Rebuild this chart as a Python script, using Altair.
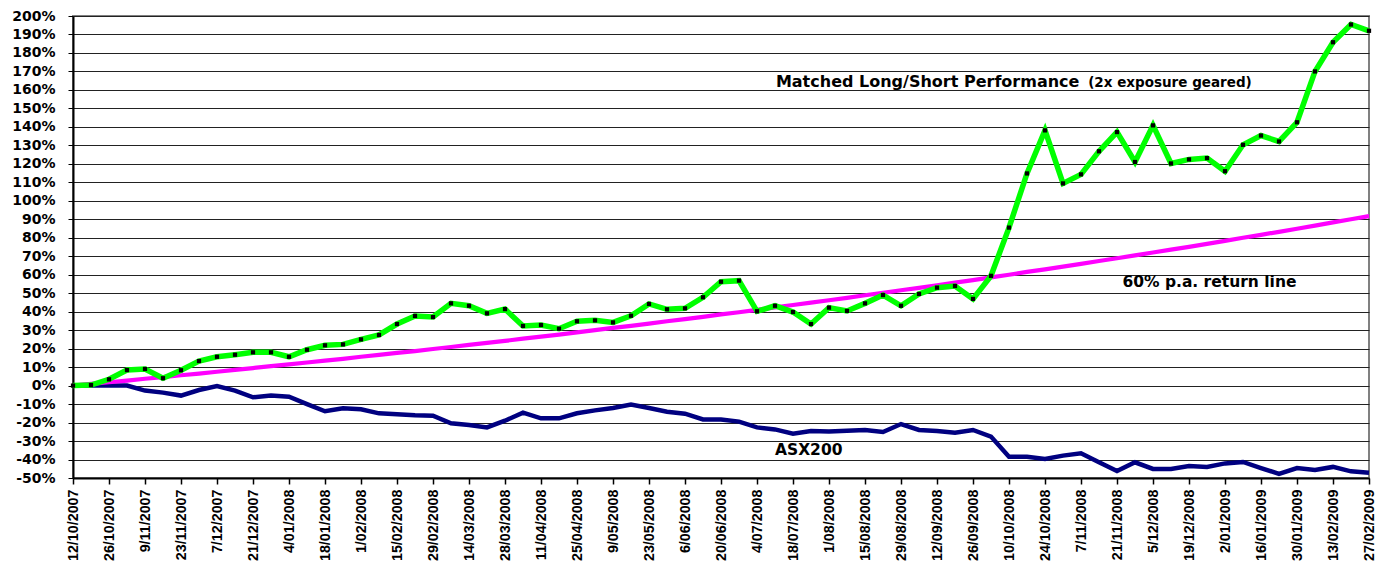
import altair as alt
import pandas as pd

# Fortnightly x tick labels (weekly data points, week 0 = 12/10/2007)
date_labels = [
    "12/10/2007", "26/10/2007", "9/11/2007", "23/11/2007", "7/12/2007", "21/12/2007",
    "4/01/2008", "18/01/2008", "1/02/2008", "15/02/2008", "29/02/2008", "14/03/2008",
    "28/03/2008", "11/04/2008", "25/04/2008", "9/05/2008", "23/05/2008", "6/06/2008",
    "20/06/2008", "4/07/2008", "18/07/2008", "1/08/2008", "15/08/2008", "29/08/2008",
    "12/09/2008", "26/09/2008", "10/10/2008", "24/10/2008", "7/11/2008", "21/11/2008",
    "5/12/2008", "19/12/2008", "2/01/2009", "16/01/2009", "30/01/2009", "13/02/2009",
    "27/02/2009",
]

# Matched Long/Short Performance (%)
matched = [
    0.0, 0.3, 3.4, 8.4, 9.0, 4.0, 8.3, 13.3, 15.6, 16.7, 18.0, 18.0, 15.6, 19.4, 21.8,
    22.3, 25.0, 27.4, 33.3, 37.7, 37.1, 44.5, 43.2, 39.1, 41.4, 32.3, 32.8, 30.8, 34.8,
    35.3, 34.2, 37.8, 44.2, 41.3, 41.8, 47.8, 56.2, 56.8, 40.2, 43.2, 39.8, 33.3, 42.2,
    40.4, 44.5, 49.0, 43.2, 49.6, 53.0, 53.9, 46.9, 59.4, 85.5, 114.8, 138.1, 109.4,
    114.3, 126.8, 137.2, 121.0, 140.8, 120.2, 122.4, 123.1, 116.0, 130.3, 135.3, 132.1,
    142.5, 170.0, 185.8, 195.4, 192.0,
]

# 60% p.a. return line (%)
target = [
    0.0, 0.9, 1.8, 2.7, 3.7, 4.6, 5.6, 6.5, 7.5, 8.5, 9.5, 10.5, 11.5, 12.5, 13.5,
    14.5, 15.6, 16.6, 17.7, 18.7, 19.8, 20.9, 22.0, 23.1, 24.2, 25.4, 26.5, 27.6, 28.8,
    30.0, 31.2, 32.3, 33.5, 34.8, 36.0, 37.2, 38.5, 39.7, 41.0, 42.3, 43.6, 44.9, 46.2,
    47.5, 48.9, 50.2, 51.6, 52.9, 54.3, 55.7, 57.1, 58.6, 60.0, 61.5, 62.9, 64.4,
    65.9, 67.4, 68.9, 70.5, 72.0, 73.6, 75.1, 76.7, 78.3, 80.0, 81.6, 83.2, 84.9,
    86.6, 88.3, 90.0, 91.7,
]

# ASX200 (%)
asx200 = [
    0.0, 0.0, 0.0, 0.0, -2.7, -3.8, -5.4, -2.4, -0.2, -2.7, -6.3, -5.4, -6.0, -10.0,
    -13.9, -12.3, -12.8, -15.0, -15.5, -16.1, -16.3, -20.4, -21.3, -22.6, -19.0, -14.6,
    -17.7, -17.7, -15.0, -13.4, -12.1, -10.3, -12.1, -14.1, -15.2, -18.3, -18.3, -19.5,
    -22.6, -23.7, -26.0, -24.6, -24.9, -24.4, -24.0, -25.1, -20.8, -24.0, -24.6, -25.5,
    -24.0, -27.6, -38.5, -38.5, -39.7, -37.9, -36.6, -41.5, -46.2, -41.5, -45.1, -45.1,
    -43.5, -44.0, -42.1, -41.3, -44.6, -47.8, -44.6, -45.7, -44.0, -46.4, -47.1,
]

# Annotations: text, week position, value position
ann_text = ["Matched Long/Short Performance", "(2x exposure geared)",
            "60% p.a. return line", "ASX200"]
ann_x = [39.05, 56.4, 58.3, 39.0]
ann_y = [161.6, 161.6, 53.2, -37.3]
ann_size = [16, 13.5, 15.5, 15.5]

df = pd.DataFrame({
    "week": list(range(len(matched))),
    "matched": matched,
    "target": target,
    "asx": asx200,
})
ann = pd.DataFrame({"text": ann_text, "x": ann_x, "y": ann_y, "size": ann_size})

FONT = "DejaVu Sans"
XFONT = "Liberation Sans"
label_js = "[" + ",".join("'%s'" % s for s in date_labels) + "][round(datum.value/2)]"

xscale = alt.Scale(domain=[0, 72], nice=False, zero=False)
yscale = alt.Scale(domain=[-50, 200], nice=False, zero=False)

xaxis = alt.Axis(
    values=list(range(0, 73, 2)), tickCount=500, labelExpr=label_js, labelAngle=-90,
    labelFont=XFONT, labelFontSize=14.3, labelFontWeight="bold", labelColor="black",
    labelOverlap=False, labelFlush=False, labelBound=False, labelPadding=5,
    tickSize=6, tickColor="black", tickWidth=1.5, domainColor="black", domainWidth=2,
    grid=False, title=None,
)
yaxis = alt.Axis(
    values=list(range(-50, 201, 10)), tickCount=500, labelExpr="datum.value + '%'",
    labelFont=FONT, labelFontSize=14, labelFontWeight="bold", labelColor="black",
    labelPadding=13, tickSize=5, tickColor="black", domainColor="black", domainWidth=2,
    grid=True, gridColor="#222222", gridWidth=1.2, title=None, labelOverlap=False,
)

base = alt.Chart(df)
x = alt.X("week:Q", scale=xscale, axis=xaxis)

asx_line = base.mark_line(color="#000080", strokeWidth=4.5).encode(
    x=x, y=alt.Y("asx:Q", scale=yscale, axis=yaxis))
target_line = base.mark_line(color="#FF00FF", strokeWidth=4.2).encode(
    x=x, y=alt.Y("target:Q", scale=yscale))
matched_line = base.mark_line(color="#00FF00", strokeWidth=5.5).encode(
    x=x, y=alt.Y("matched:Q", scale=yscale))
matched_pts = base.mark_square(color="black", size=18, opacity=1).encode(
    x=x, y=alt.Y("matched:Q", scale=yscale))

labels = alt.Chart(ann).mark_text(
    font=FONT, fontWeight="bold", color="black", align="left", baseline="alphabetic"
).encode(
    x=alt.X("x:Q", scale=xscale),
    y=alt.Y("y:Q", scale=yscale),
    text="text:N",
    size=alt.Size("size:Q", scale=None, legend=None),
)

chart = alt.layer(asx_line, target_line, matched_line, matched_pts, labels).properties(
    width=1296, height=462,
    autosize=alt.AutoSizeParams(type="none"),
    padding={"left": 73, "top": 16, "right": 16, "bottom": 87},
    background="white",
).configure_view(stroke="#808080", strokeWidth=2)

chart.save("out.html", embed_options={"renderer": "svg", "actions": False})
